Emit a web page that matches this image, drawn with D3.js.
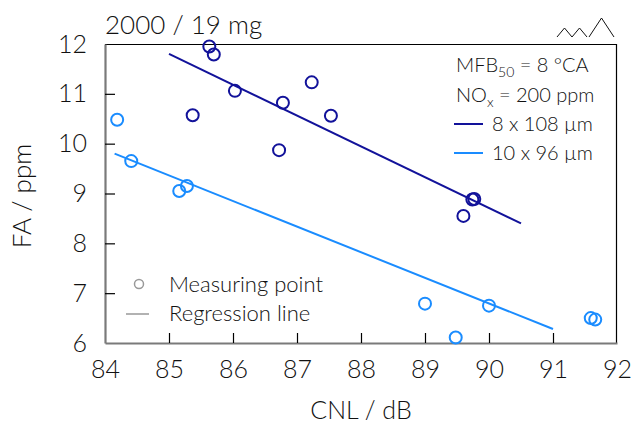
<!DOCTYPE html>
<html>
<head>
<meta charset="utf-8">
<script src="https://cdn.jsdelivr.net/npm/d3@7"></script>
<style>
  body { margin: 0; background: #fff; }
  svg text { font-family: Lato, "Open Sans", sans-serif; font-weight: 300; fill: #111; }
</style>
</head>
<body>
<svg id="root" width="631" height="425"></svg>
<script>
// measured points, 8 x 108 µm nozzle
const darkX = [85.63, 85.70, 86.03, 85.37, 86.78, 87.23, 87.53, 86.72, 89.74, 89.77, 89.60];
const darkY = [11.95, 11.79, 11.06, 10.57, 10.82, 11.23, 10.56, 9.87, 8.88, 8.89, 8.55];
// measured points, 10 x 96 µm nozzle
const lightX = [84.19, 84.41, 85.28, 85.16, 89.00, 90.00, 89.48, 91.59, 91.66];
const lightY = [10.48, 9.65, 9.15, 9.05, 6.79, 6.75, 6.11, 6.50, 6.47];
// regression lines (start, end)
const darkFitX = [85.0, 90.5];
const darkFitY = [11.8, 8.4];
const lightFitX = [84.15, 91.0];
const lightFitY = [9.8, 6.28];

const xTicks = [84, 85, 86, 87, 88, 89, 90, 91, 92];
const yTicks = [6, 7, 8, 9, 10, 11, 12];

const darkColor = '#12129a';
const lightColor = '#1a8cff';

const margin = { top: 44, right: 14, bottom: 82, left: 105 };
const width = 631 - margin.left - margin.right;
const height = 425 - margin.top - margin.bottom;

const svg = d3.select('#root');
const g = svg.append('g').attr('transform', `translate(${margin.left},${margin.top})`);

const x = d3.scaleLinear().domain([84, 92]).range([0, width]);
const y = d3.scaleLinear().domain([6, 12]).range([height, 0]);

// top and right frame
g.append('path')
  .attr('d', `M0,0.5H${width - 0.5}V${height}`)
  .attr('fill', 'none').attr('stroke', '#000').attr('stroke-width', 1.2);

const axisX = d3.axisBottom(x).tickValues(xTicks).tickFormat(d3.format('d'))
  .tickSizeInner(-10).tickSizeOuter(0).tickPadding(17);
const axisY = d3.axisLeft(y).tickValues(yTicks).tickFormat(d3.format('d'))
  .tickSizeInner(-10).tickSizeOuter(0).tickPadding(18);

const gx = g.append('g').attr('transform', `translate(0,${height})`).call(axisX);
const gy = g.append('g').call(axisY);

[gx, gy].forEach(a => {
  a.select('.domain').attr('stroke', '#7a7a7a').attr('stroke-width', 2.2);
  a.selectAll('.tick line').attr('stroke', '#000').attr('stroke-width', 1.2);
  a.selectAll('.tick text').style('font-size', '25px').attr('fill', '#111');
});
gx.selectAll('.tick').filter(d => d === 84 || d === 92).select('line').remove();
gy.selectAll('.tick').filter(d => d === 6 || d === 12).select('line').remove();

// regression lines
const line = d3.line().x(d => x(d[0])).y(d => y(d[1]));
g.append('path').datum(d3.zip(darkFitX, darkFitY))
  .attr('d', line).attr('stroke', darkColor).attr('stroke-width', 2).attr('fill', 'none');
g.append('path').datum(d3.zip(lightFitX, lightFitY))
  .attr('d', line).attr('stroke', lightColor).attr('stroke-width', 2).attr('fill', 'none');

// points
g.selectAll('.dark').data(d3.zip(darkX, darkY)).enter().append('circle')
  .attr('class', 'dark')
  .attr('cx', d => x(d[0])).attr('cy', d => y(d[1])).attr('r', 6)
  .attr('fill', 'none').attr('stroke', darkColor).attr('stroke-width', 2);
g.selectAll('.light').data(d3.zip(lightX, lightY)).enter().append('circle')
  .attr('class', 'light')
  .attr('cx', d => x(d[0])).attr('cy', d => y(d[1])).attr('r', 6)
  .attr('fill', 'none').attr('stroke', lightColor).attr('stroke-width', 2);

// axis titles
svg.append('text').attr('x', 361).attr('y', 419).attr('text-anchor', 'middle')
  .style('font-size', '25px').text('CNL / dB');
svg.append('text').attr('transform', 'translate(31,196) rotate(-90)').attr('text-anchor', 'middle')
  .style('font-size', '26px').text('FA / ppm');

// title
svg.append('text').attr('x', 105).attr('y', 34).style('font-size', '26px').text('2000 / 19 mg');

// chevron mark
svg.append('path')
  .attr('d', 'M557,37L564.5,28L572,37L579.5,28L587,37M589,37L601.5,18L614,37')
  .attr('fill', 'none').attr('stroke', '#111').attr('stroke-width', 1);

// legend, top right
const leg = svg.append('g').style('font-size', '20px');
const t1 = leg.append('text').attr('x', 456).attr('y', 72);
t1.append('tspan').text('MFB');
t1.append('tspan').attr('dy', 5).style('font-size', '14px').text('50');
t1.append('tspan').attr('dy', -5).text(' = 8 °CA');
const t2 = leg.append('text').attr('x', 456).attr('y', 102);
t2.append('tspan').text('NO');
t2.append('tspan').attr('dy', 5).style('font-size', '14px').text('x');
t2.append('tspan').attr('dy', -5).text(' = 200 ppm');
[['8 x 108 µm', darkColor, 131], ['10 x 96 µm', lightColor, 160]].forEach(([label, c, ty]) => {
  leg.append('line').attr('x1', 454).attr('x2', 483).attr('y1', ty - 7).attr('y2', ty - 7)
    .attr('stroke', c).attr('stroke-width', 2);
  leg.append('text').attr('x', 492).attr('y', ty).text(label);
});

// legend, bottom left
const leg2 = svg.append('g').style('font-size', '22px');
leg2.append('circle').attr('cx', 139).attr('cy', 284).attr('r', 4.5)
  .attr('fill', 'none').attr('stroke', '#999').attr('stroke-width', 1.5);
leg2.append('text').attr('x', 169).attr('y', 292).text('Measuring point');
leg2.append('line').attr('x1', 126).attr('x2', 149).attr('y1', 314).attr('y2', 314)
  .attr('stroke', '#999').attr('stroke-width', 1.5);
leg2.append('text').attr('x', 169).attr('y', 321).text('Regression line');
</script>
</body>
</html>
